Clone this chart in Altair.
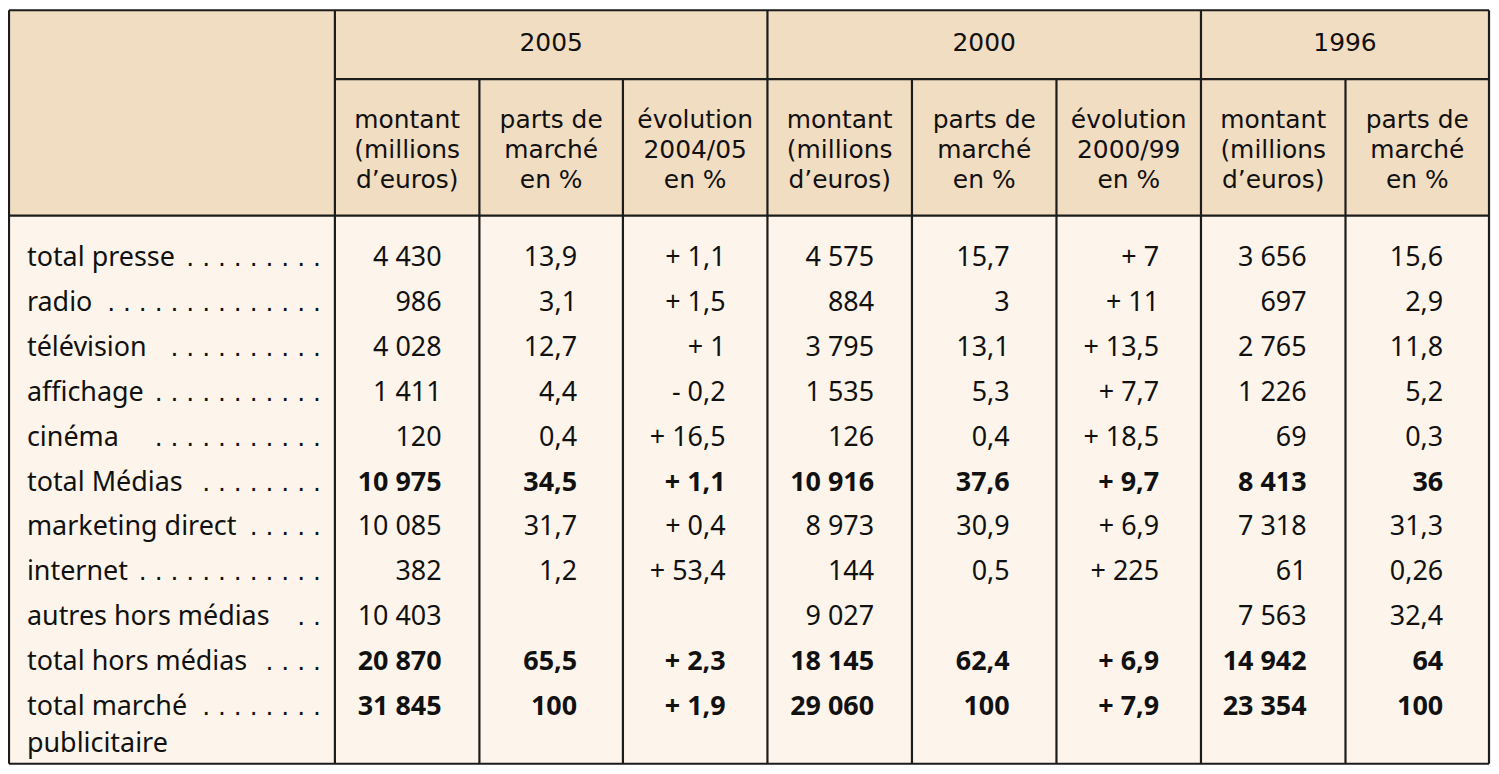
import altair as alt
import pandas as pd

# ---------------- data ----------------
years = ["2005", "2000", "1996"]
year_spans = [(1, 3), (4, 6), (7, 8)]  # column index ranges (1-based, inclusive)
subheaders = [
    "montant\n(millions\nd’euros)", "parts de\nmarché\nen %", "évolution\n2004/05\nen %",
    "montant\n(millions\nd’euros)", "parts de\nmarché\nen %", "évolution\n2000/99\nen %",
    "montant\n(millions\nd’euros)", "parts de\nmarché\nen %",
]
labels = [
    "total presse", "radio", "télévision", "affichage", "cinéma", "total Médias",
    "marketing direct", "internet", "autres hors médias", "total hors médias",
    "total marché\npublicitaire",
]
leaders = [9, 14, 10, 11, 11, 8, 5, 12, 2, 4, 8]
bold_rows = [False, False, False, False, False, True, False, False, False, True, True]

montant_2005 = [4430, 986, 4028, 1411, 120, 10975, 10085, 382, 10403, 20870, 31845]
parts_2005 = [13.9, 3.1, 12.7, 4.4, 0.4, 34.5, 31.7, 1.2, None, 65.5, 100]
evol_2004_05 = [1.1, 1.5, 1, -0.2, 16.5, 1.1, 0.4, 53.4, None, 2.3, 1.9]
montant_2000 = [4575, 884, 3795, 1535, 126, 10916, 8973, 144, 9027, 18145, 29060]
parts_2000 = [15.7, 3, 13.1, 5.3, 0.4, 37.6, 30.9, 0.5, None, 62.4, 100]
evol_2000_99 = [7, 11, 13.5, 7.7, 18.5, 9.7, 6.9, 225, None, 6.9, 7.9]
montant_1996 = [3656, 697, 2765, 1226, 69, 8413, 7318, 61, 7563, 14942, 23354]
parts_1996 = [15.6, 2.9, 11.8, 5.2, 0.3, 36, 31.3, 0.26, 32.4, 64, 100]

columns = [
    (montant_2005, "m"), (parts_2005, "p"), (evol_2004_05, "e"),
    (montant_2000, "m"), (parts_2000, "p"), (evol_2000_99, "e"),
    (montant_1996, "m"), (parts_1996, "p"),
]

# ---------------- layout (page pixel space) ----------------
W, H = 1488, 758
X_DOM = [8, 8 + W]
Y_DOM = [8, 8 + H]
FONT = "Noto Sans"
FS = 27
HEAD_FONT = "DejaVu Sans"
HEAD_FS = 25
HEADER_BG = "#f1ddc2"
BODY_BG = "#fdf5eb"
LINE = "#1c1c1c"
TXT = "#111111"

col_lines = [9, 336, 481, 625, 770, 915, 1060, 1205, 1350, 1494]
right_edges = [443, 579, 728, 877, 1013, 1163, 1311, 1448]
TOP, MID, HEAD_BOTTOM, BOTTOM = 9, 78, 215, 765
LEFT, RIGHT = col_lines[0], col_lines[-1]
row_base0, row_step = 266, 45
year_base = 50
sub_base = 127
label_x, dots_x = 27, 322


def fr(v):
    return f"{v:g}".replace(".", ",")


def fmt(v, kind):
    if v is None:
        return ""
    if kind == "m":
        return f"{v:,}".replace(",", " ")
    if kind == "p":
        return fr(v)
    sign = "+ " if v >= 0 else "- "
    return sign + fr(abs(v))


xs = alt.Scale(domain=X_DOM, nice=False, zero=False)
ys = alt.Scale(domain=Y_DOM, nice=False, zero=False, reverse=True)

# backgrounds
bg = pd.DataFrame([
    {"x": LEFT, "x2": RIGHT, "y": TOP, "y2": HEAD_BOTTOM, "c": HEADER_BG},
    {"x": LEFT, "x2": RIGHT, "y": HEAD_BOTTOM, "y2": BOTTOM, "c": BODY_BG},
])
bg_layer = alt.Chart(bg).mark_rect().encode(
    x=alt.X("x:Q", scale=xs, axis=None), x2="x2:Q",
    y=alt.Y("y:Q", scale=ys, axis=None), y2="y2:Q",
    color=alt.Color("c:N", scale=None),
)

# grid lines
rules = []
for i, xv in enumerate(col_lines):
    y0 = TOP if i in (0, 1, 4, 7, 9) else MID
    rules.append({"x": xv, "x2": xv, "y": y0, "y2": BOTTOM})
rules.append({"x": LEFT, "x2": RIGHT, "y": TOP, "y2": TOP})
rules.append({"x": col_lines[1], "x2": RIGHT, "y": MID, "y2": MID})
rules.append({"x": LEFT, "x2": RIGHT, "y": HEAD_BOTTOM, "y2": HEAD_BOTTOM})
rules.append({"x": LEFT, "x2": RIGHT, "y": BOTTOM, "y2": BOTTOM})
rule_layer = alt.Chart(pd.DataFrame(rules)).mark_rule(color=LINE, strokeWidth=2.2).encode(
    x=alt.X("x:Q", scale=xs, axis=None), x2="x2:Q",
    y=alt.Y("y:Q", scale=ys, axis=None), y2="y2:Q",
)

# header texts (centered)
head = []
for name, (a, b) in zip(years, year_spans):
    head.append({"x": (col_lines[a] + col_lines[b + 1]) / 2, "y": year_base, "t": name})
for j, sh in enumerate(subheaders):
    cx = (col_lines[j + 1] + col_lines[j + 2]) / 2
    head.append({"x": cx, "y": sub_base, "t": sh})

# row labels and dot leaders
lab, dots = [], []
for r, name in enumerate(labels):
    yb = row_base0 + r * row_step
    lab.append({"x": label_x, "y": yb, "t": name})
    dots.append({"x": dots_x, "y": yb, "t": " ".join(["."] * leaders[r])})

# numbers
num_n, num_b = [], []
for c, (vals, kind) in enumerate(columns):
    for r, v in enumerate(vals):
        rec = {"x": right_edges[c], "y": row_base0 + r * row_step, "t": fmt(v, kind)}
        (num_b if bold_rows[r] else num_n).append(rec)


def text_layer(rows, align, weight="normal", font=FONT, size=FS, lh=30):
    return alt.Chart(pd.DataFrame(rows)).mark_text(
        align=align, baseline="alphabetic", font=font, fontSize=size,
        fontWeight=weight, color=TXT, lineBreak="\n", lineHeight=lh,
    ).encode(
        x=alt.X("x:Q", scale=xs, axis=None),
        y=alt.Y("y:Q", scale=ys, axis=None),
        text="t:N",
    )


chart = alt.layer(
    bg_layer,
    rule_layer,
    text_layer(head, "center", font=HEAD_FONT, size=HEAD_FS, lh=30),
    text_layer(lab, "left", lh=37),
    text_layer(dots, "right", font="DejaVu Sans", size=25),
    text_layer(num_n, "right"),
    text_layer(num_b, "right", "bold"),
).properties(
    width=W, height=H,
    autosize=alt.AutoSizeParams(type="none"),
    padding=0,
).configure_view(stroke=None)

chart.save("out.html", embed_options={"renderer": "svg", "actions": False})
